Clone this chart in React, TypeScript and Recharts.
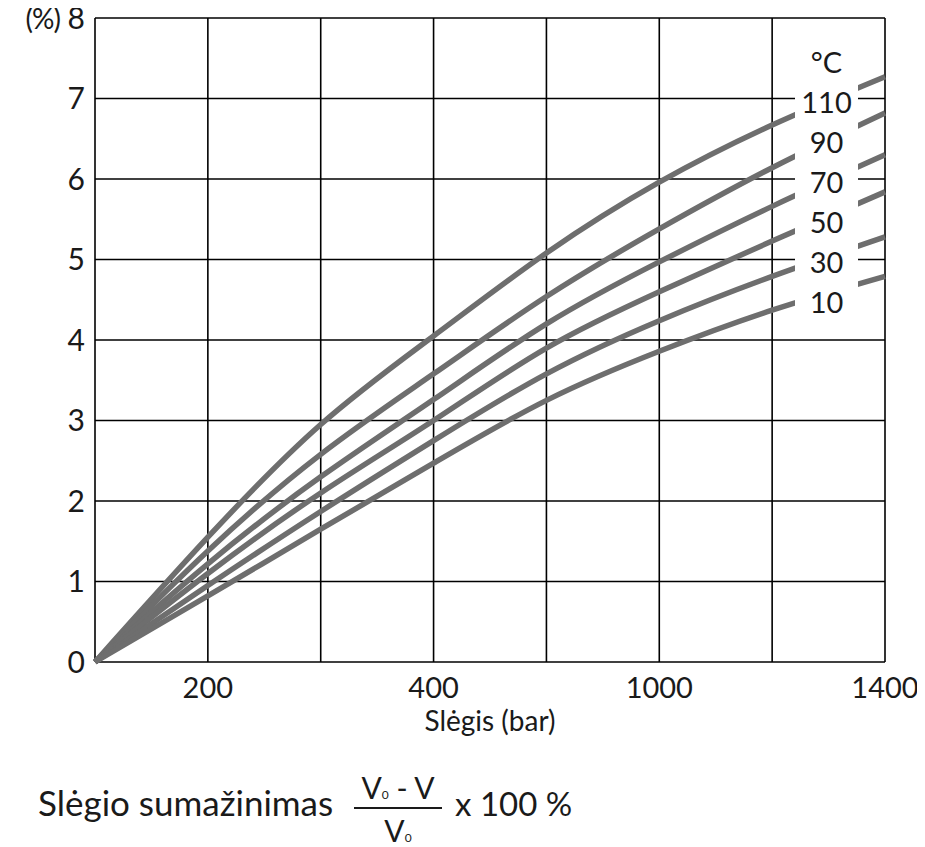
import React from "react";
import { LineChart, Line, XAxis, YAxis, CartesianGrid } from "recharts";

const pressureIndex = [0, 1, 2, 3, 4, 5, 6, 7];
const xTickLabels = ["", "200", "", "400", "", "1000", "", "1400"];
const yTicks = [0, 1, 2, 3, 4, 5, 6, 7, 8];

const t110 = [0, 1.55, 2.95, 4.05, 5.08, 5.96, 6.67, 7.27];
const t90 = [0, 1.38, 2.58, 3.58, 4.54, 5.38, 6.14, 6.82];
const t70 = [0, 1.22, 2.3, 3.26, 4.2, 4.97, 5.66, 6.3];
const t50 = [0, 1.1, 2.1, 3.0, 3.9, 4.6, 5.23, 5.84];
const t30 = [0, 0.95, 1.87, 2.75, 3.58, 4.24, 4.79, 5.28];
const t10 = [0, 0.82, 1.65, 2.47, 3.25, 3.86, 4.37, 4.79];

const seriesKeys = ["t110", "t90", "t70", "t50", "t30", "t10"];
const tempLabels = ["110", "90", "70", "50", "30", "10"];

const data = pressureIndex.map((x, i) => ({
  x,
  t110: t110[i],
  t90: t90[i],
  t70: t70[i],
  t50: t50[i],
  t30: t30[i],
  t10: t10[i],
}));

const FONT = "Lato, 'Noto Sans', sans-serif";
const TEXT = "#1a1a1a";
const LINE = "#6e6e6e";

const YTick = (props: any) => {
  const { x, y, payload } = props;
  const v = payload.value;
  return (
    <text
      x={x}
      y={y}
      dy="0.35em"
      textAnchor="end"
      fontSize={30}
      fill={TEXT}
      fontFamily={FONT}
    >
      {v === 8 ? (
        <>
          <tspan fontSize={28} letterSpacing={-1}>(%)</tspan>
          <tspan> 8</tspan>
        </>
      ) : (
        String(v)
      )}
    </text>
  );
};

export default function App() {
  return (
    <div
      style={{
        position: "relative",
        left: -8,
        top: -8,
        width: 925,
        height: 847,
        fontFamily: FONT,
        color: TEXT,
      }}
    >
      <LineChart
        width={925}
        height={770}
        data={data}
        margin={{ top: 18, right: 40, left: 0, bottom: 0 }}
      >
        <CartesianGrid stroke="#000" strokeWidth={1.6} />
        <XAxis
          dataKey="x"
          type="number"
          domain={[0, 7]}
          ticks={pressureIndex}
          tickFormatter={(v: number) => xTickLabels[v] ?? ""}
          axisLine={false}
          tickLine={false}
          tickMargin={9}
          height={108}
          interval={0}
          tick={{ fontSize: 29, fill: TEXT, fontFamily: FONT }}
          label={{
            value: "Slėgis (bar)",
            position: "insideBottom",
            offset: 39,
            style: { fontSize: 28, fill: TEXT, fontFamily: FONT },
          }}
        />
        <YAxis
          type="number"
          domain={[0, 8]}
          ticks={yTicks}
          axisLine={false}
          tickLine={false}
          tickMargin={4}
          width={95}
          interval={0}
          tick={<YTick />}
        />
        {seriesKeys.map((k) => (
          <Line
            key={k}
            dataKey={k}
            type="natural"
            stroke={LINE}
            strokeWidth={5.5}
            dot={false}
            activeDot={false}
            isAnimationActive={false}
          />
        ))}
      </LineChart>

      <div
        style={{
          position: "absolute",
          left: 795,
          top: 45,
          width: 63,
          height: 276,
          background: "#fff",
          textAlign: "center",
          fontSize: 29,
          lineHeight: "40px",
        }}
      >
        <div style={{ height: 40, position: "relative", top: -3 }}>°C</div>
        {tempLabels.map((t) => (
          <div key={t} style={{ height: 40, position: "relative", top: -3 }}>{t}</div>
        ))}
      </div>

      <div
        style={{
          position: "absolute",
          left: 38,
          top: 782,
          fontSize: 35,
          lineHeight: "40px",
          whiteSpace: "nowrap",
        }}
      >
        Slėgio sumažinimas
      </div>
      <div
        style={{
          position: "absolute",
          left: 354,
          top: 770,
          width: 88,
          textAlign: "center",
          fontSize: 30,
          lineHeight: "34px",
          whiteSpace: "nowrap",
        }}
      >
        V<span style={{ fontSize: 12 }}>0</span> - V
      </div>
      <div
        style={{
          position: "absolute",
          left: 354,
          top: 807,
          width: 88,
          height: 0,
          borderTop: "2px solid #1a1a1a",
        }}
      />
      <div
        style={{
          position: "absolute",
          left: 354,
          top: 813,
          width: 88,
          textAlign: "center",
          fontSize: 30,
          lineHeight: "34px",
          whiteSpace: "nowrap",
        }}
      >
        V<span style={{ fontSize: 12 }}>0</span>
      </div>
      <div
        style={{
          position: "absolute",
          left: 455,
          top: 783,
          fontSize: 33,
          lineHeight: "40px",
          whiteSpace: "nowrap",
        }}
      >
        x 100 %
      </div>
    </div>
  );
}
